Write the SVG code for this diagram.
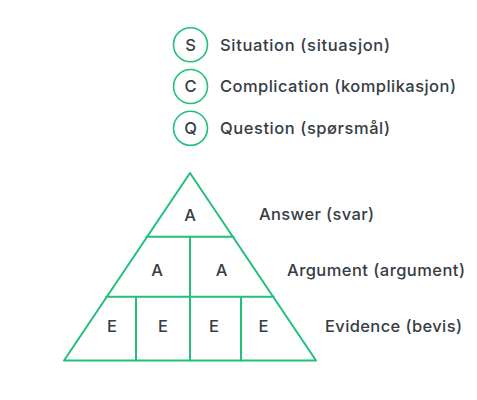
<svg xmlns="http://www.w3.org/2000/svg" width="477" height="400" viewBox="0 0 477 400">
<style>
.ln{fill:none;stroke:#22c07a;stroke-width:2;stroke-linejoin:round;stroke-linecap:round}
.circ{fill:#fff;stroke:#22c07a;stroke-width:1.6}
.t{font-family:Inter,"Liberation Sans",sans-serif;font-weight:500;font-size:16.5px;fill:#363d45}
.c{text-anchor:middle}
</style>
<rect width="477" height="400" fill="#fff"/>
<g id="legend-s"><circle class="circ" cx="190.5" cy="44.7" r="17"/><text class="t c" x="190.5" y="50.5">S</text><text class="t" x="220" y="50.5" textLength="170" lengthAdjust="spacing">Situation (situasjon)</text></g>
<g id="legend-c"><circle class="circ" cx="190.5" cy="86.5" r="17"/><text class="t c" x="190.5" y="92.3">C</text><text class="t" x="220" y="92.3" textLength="236" lengthAdjust="spacing">Complication (komplikasjon)</text></g>
<g id="legend-q"><circle class="circ" cx="190.5" cy="128.3" r="17"/><text class="t c" x="190.5" y="134">Q</text><text class="t" x="220" y="134" textLength="170" lengthAdjust="spacing">Question (spørsmål)</text></g>
<g id="connectors">
<polygon class="ln" points="190,173 64,360.5 316,360.5"/>
<line class="ln" x1="146.5" y1="236.7" x2="233.5" y2="236.7"/>
<line class="ln" x1="106.3" y1="296.7" x2="273.7" y2="296.7"/>
<line class="ln" x1="190" y1="236.7" x2="190" y2="360.5"/>
<line class="ln" x1="136" y1="296.7" x2="136" y2="360.5"/>
<line class="ln" x1="241" y1="296.7" x2="241" y2="360.5"/>
</g>
<g id="answer"><text class="t c" x="190" y="220.5">A</text><text class="t" x="259" y="220" textLength="115" lengthAdjust="spacing">Answer (svar)</text></g>
<g id="argument"><text class="t c" x="157" y="276">A</text><text class="t c" x="221.5" y="276">A</text><text class="t" x="287" y="276" textLength="178" lengthAdjust="spacing">Argument (argument)</text></g>
<g id="evidence"><text class="t c" x="112" y="331.7">E</text><text class="t c" x="163" y="331.7">E</text><text class="t c" x="214" y="331.7">E</text><text class="t c" x="263.5" y="331.7">E</text><text class="t" x="325" y="331.7" textLength="137" lengthAdjust="spacing">Evidence (bevis)</text></g>
</svg>
